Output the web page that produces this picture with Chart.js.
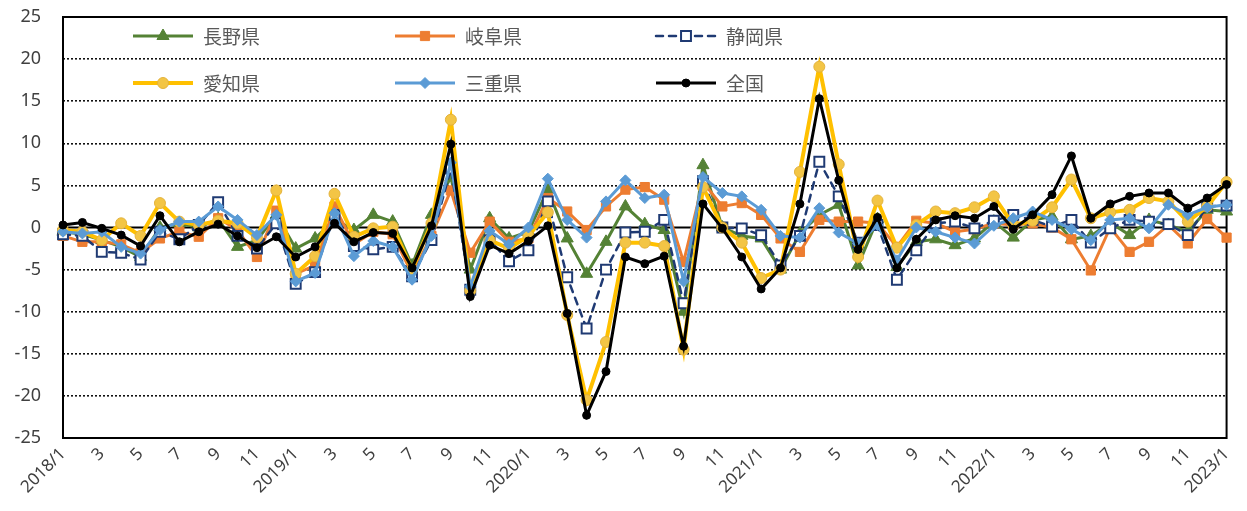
<!DOCTYPE html>
<html lang="ja">
<head>
  <meta charset="UTF-8">
  <title>前年同月比の推移</title>
  <script src="https://cdn.jsdelivr.net/npm/chart.js"></script>
  <style>
    html, body { margin: 0; padding: 0; background: #fff; }
    #chart-box { width: 1247px; height: 511px; }
  </style>
</head>
<body>
  <div id="chart-box">
    <canvas id="trendChart" width="1247" height="511"></canvas>
  </div>

  <script>
    // 月ラベル（2018年1月〜2023年1月）
    const months = [
      '2018/1', '2', '3', '4', '5', '6', '7', '8', '9', '10', '11', '12',
      '2019/1', '2', '3', '4', '5', '6', '7', '8', '9', '10', '11', '12',
      '2020/1', '2', '3', '4', '5', '6', '7', '8', '9', '10', '11', '12',
      '2021/1', '2', '3', '4', '5', '6', '7', '8', '9', '10', '11', '12',
      '2022/1', '2', '3', '4', '5', '6', '7', '8', '9', '10', '11', '12',
      '2023/1'
    ];

    // 各県・全国の値（%）
    const nagano = [
      -0.5, -0.8, -1.5, -2.3, -3.5, 0.0, 0.5, 0.0, 1.0, -2.3, -1.5, 1.5,
      -2.5, -1.3, 1.0, -0.3, 1.5, 0.7, -4.5, 1.5, 6.0, -5.0, 1.1, -1.3,
      -0.5, 4.5, -1.3, -5.5, -1.7, 2.5, 0.4, -0.3, -10.0, 7.4, 0.0, -1.0,
      -1.3, -5.0, -0.7, 1.5, 2.7, -4.5, 1.0, -4.7, -1.7, -1.4, -2.1, -1.3,
      0.7, -1.2, 0.9, 1.3, -1.4, -1.0, 0.6, -0.9, 0.9, 0.3, -0.5, 2.1,
      1.9
    ];
    const gifu = [
      -1.0, -1.7, -1.7, -2.0, -3.0, -1.3, -0.5, -1.1, 1.1, -0.3, -3.5, 2.0,
      -5.5, -4.5, 2.5, -2.0, -0.5, -0.8, -5.5, -1.0, 4.4, -3.0, 0.7, -1.7,
      -1.3, 3.5, 1.9, -0.3, 2.5, 4.5, 4.8, 3.3, -4.1, 5.4, 2.5, 2.9,
      1.5, -1.3, -2.9, 0.9, 0.7, 0.7, 0.5, -2.3, 0.8, 0.5, -0.5, -0.2,
      0.5, 0.3, 0.5, 0.0, -1.4, -5.1, 0.0, -2.9, -1.7, 0.3, -1.9, 1.0,
      -1.2
    ];
    const shizuoka = [
      -0.8, -1.0, -2.9, -3.0, -3.8, -0.5, -1.4, 0.3, 3.0, -1.0, -2.5, 0.5,
      -6.7, -5.3, 1.5, -2.2, -2.6, -2.3, -5.8, -1.5, 7.0, -7.4, -1.5, -4.0,
      -2.7, 3.1, -5.9, -12.0, -5.0, -0.6, -0.5, 0.9, -9.0, 5.5, 0.0, -0.1,
      -0.9, -4.5, -1.0, 7.8, 3.7, -1.8, 0.3, -6.2, -2.7, 0.5, 0.7, -0.1,
      0.8, 1.5, 0.9, 0.1, 0.9, -1.8, -0.1, 0.9, 0.7, 0.4, -0.9, 2.5,
      2.6
    ];
    const aichi = [
      -0.3, -0.5, -1.5, 0.5, -1.0, 2.9, 0.7, 0.3, 0.8, 0.5, -1.2, 4.4,
      -5.5, -3.4, 4.0, -1.1, -0.1, 0.1, -5.0, 0.5, 12.8, -7.5, -1.5, -2.5,
      -1.0, 1.8, -10.4, -20.5, -13.6, -1.8, -1.8, -2.2, -14.5, 4.8, 0.0, -1.8,
      -6.0, -5.0, 6.6, 19.1, 7.5, -3.5, 3.2, -2.4, 0.3, 1.9, 1.7, 2.4,
      3.7, 0.3, 0.8, 2.4, 5.7, 1.1, 1.8, 2.1, 3.5, 3.1, 0.7, 2.5,
      5.4
    ];
    const mie = [
      -0.5, -0.7, -0.5, -2.3, -3.1, -0.3, 0.7, 0.7, 2.5, 0.9, -0.9, 1.5,
      -6.4, -5.4, 1.7, -3.4, -1.6, -2.3, -6.2, -1.0, 7.7, -7.0, -0.4, -2.0,
      0.0, 5.8, 0.9, -1.2, 3.1, 5.6, 3.5, 3.9, -6.4, 6.0, 4.1, 3.7,
      2.1, -1.0, -1.2, 2.3, -0.6, -1.9, 0.3, -3.9, 0.0, -0.5, -1.2, -1.9,
      0.2, 1.1, 1.9, 0.9, -0.2, -1.5, 0.9, 1.1, -0.1, 2.7, 1.5, 2.4,
      2.7
    ];
    const zenkoku = [
      0.3, 0.6, -0.1, -0.9, -2.2, 1.4, -1.7, -0.5, 0.4, -1.0, -2.4, -1.1,
      -3.5, -2.3, 0.5, -1.7, -0.6, -0.7, -4.8, 0.2, 9.9, -8.2, -2.1, -3.1,
      -1.6, 0.2, -10.2, -22.3, -17.1, -3.5, -4.3, -3.4, -14.1, 2.8, -0.1, -3.5,
      -7.3, -4.8, 2.8, 15.3, 5.6, -2.6, 1.2, -4.8, -1.4, 0.9, 1.4, 1.1,
      2.5, -0.2, 1.5, 3.9, 8.5, 1.1, 2.8, 3.7, 4.1, 4.1, 2.3, 3.5,
      5.1
    ];

    // 凡例の配置（プロット領域左上からのずれ、3列×2段）
    const legendSlots = [[70, 19], [332, 19], [593, 19], [70, 66], [332, 66], [593, 66]];

    const makeSeries = (label, data, color, extra) => Object.assign({
      label: label,
      data: data,
      borderColor: color,
      backgroundColor: color,
      pointBackgroundColor: color,
      pointBorderColor: color,
      borderWidth: 3,
      pointBorderWidth: 1,
      pointRadius: 5,
      pointHoverRadius: 5,
      tension: 0,
      fill: false
    }, extra);

    const datasets = [
      makeSeries('長野県', nagano, '#548235', { pointStyle: 'triangle', pointRadius: 7, order: 5 }),
      makeSeries('岐阜県', gifu, '#ED7D31', { pointStyle: 'rect', pointRadius: 6.5, order: 4 }),
      makeSeries('静岡県', shizuoka, '#1F3A73', {
        pointStyle: 'rect', pointRadius: 7, pointBackgroundColor: '#ffffff',
        pointBorderWidth: 2, borderWidth: 2.5, borderDash: [7, 6], borderCapStyle: 'round', order: 3
      }),
      makeSeries('愛知県', aichi, '#FFC000', {
        pointStyle: 'circle', pointRadius: 5.5, pointBackgroundColor: '#F3C545',
        pointBorderColor: '#E3B23C', borderWidth: 4, order: 2
      }),
      makeSeries('三重県', mie, '#5B9BD5', { pointStyle: 'rectRot', pointRadius: 5.5, order: 1 }),
      makeSeries('全国', zenkoku, '#000000', { pointStyle: 'circle', pointRadius: 4, order: 0 })
    ];

    // ゼロ線と外枠
    const framePlugin = {
      id: 'frame',
      beforeDatasetsDraw(chart) {
        const { ctx, chartArea } = chart;
        const y0 = chart.scales.y.getPixelForValue(0);
        ctx.save();
        ctx.strokeStyle = '#000';
        ctx.lineWidth = 2;
        ctx.beginPath();
        ctx.moveTo(chartArea.left, y0);
        ctx.lineTo(chartArea.right, y0);
        ctx.stroke();
        ctx.strokeRect(chartArea.left, chartArea.top,
          chartArea.right - chartArea.left, chartArea.bottom - chartArea.top);
        ctx.restore();
      }
    };

    // 凡例（プロット内に3列で描く）
    const legendPlugin = {
      id: 'prefLegend',
      afterDraw(chart) {
        const { ctx, chartArea } = chart;
        chart.data.datasets.forEach((ds, i) => {
          const x0 = chartArea.left + legendSlots[i][0];
          const y = chartArea.top + legendSlots[i][1];
          ctx.save();
          ctx.strokeStyle = ds.borderColor;
          ctx.lineWidth = ds.borderWidth;
          ctx.lineCap = ds.borderCapStyle || 'butt';
          ctx.setLineDash(ds.borderDash || []);
          ctx.beginPath();
          ctx.moveTo(x0, y);
          ctx.lineTo(x0 + 60, y);
          ctx.stroke();
          ctx.setLineDash([]);
          ctx.fillStyle = ds.pointBackgroundColor;
          ctx.strokeStyle = ds.pointBorderColor;
          ctx.lineWidth = ds.pointBorderWidth;
          Chart.helpers.drawPoint(ctx, {
            pointStyle: ds.pointStyle, radius: ds.pointRadius,
            borderWidth: ds.pointBorderWidth, rotation: 0
          }, x0 + 30, y);
          ctx.fillStyle = '#595959';
          ctx.font = '19px "Noto Sans CJK JP"';
          ctx.textBaseline = 'middle';
          ctx.textAlign = 'left';
          ctx.fillText(ds.label, x0 + 70, y + 1);
          ctx.restore();
        });
      }
    };

    new Chart(document.getElementById('trendChart'), {
      type: 'line',
      data: { labels: months, datasets: datasets },
      options: {
        responsive: false,
        animation: false,
        layout: { padding: { top: 17, right: 14, left: 0, bottom: 0 } },
        plugins: { legend: { display: false }, tooltip: { enabled: false } },
        scales: {
          x: {
            offset: false,
            grid: { display: false, drawTicks: false },
            border: { display: false },
            afterFit: (s) => { s.height = 73; },
            ticks: {
              autoSkip: false,
              minRotation: 45,
              maxRotation: 45,
              padding: 6,
              color: '#404040',
              font: { family: '"Noto Sans"', size: 17 },
              callback: (val, idx) => (idx % 2 === 0 ? months[idx] : '')
            }
          },
          y: {
            min: -25,
            max: 25,
            afterFit: (s) => { s.width = 63; },
            grid: {
              drawTicks: true,
              tickLength: 17,
              tickColor: 'rgba(0,0,0,0)',
              lineWidth: 1.6,
              color: (c) => (c.tick && Math.abs(c.tick.value) % 25 === 0 ? 'rgba(0,0,0,0)' : '#111')
            },
            border: { display: false, dash: [2, 2] },
            ticks: {
              stepSize: 5,
              padding: 5,
              color: '#404040',
              font: { family: '"Noto Sans"', size: 18 }
            }
          }
        }
      },
      plugins: [framePlugin, legendPlugin]
    });
  </script>
</body>
</html>
